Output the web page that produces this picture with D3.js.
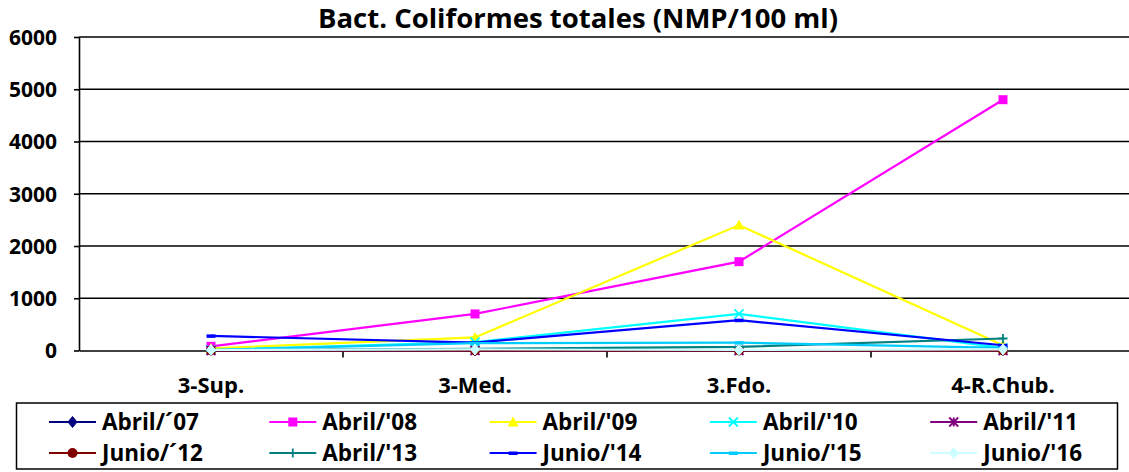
<!DOCTYPE html>
<html>
<head>
<meta charset="utf-8">
<script src="https://cdn.jsdelivr.net/npm/d3@7"></script>
<style>
  body { margin: 0; background: #fff; }
  svg { display: block; font-family: "Open Sans", Lato, sans-serif; font-weight: bold; }
</style>
</head>
<body>
<div id="chart"></div>
<script>
// chart data
const title = 'Bact. Coliformes totales (NMP/100 ml)';
const categories = ['3-Sup.', '3-Med.', '3.Fdo.', '4-R.Chub.'];
const yTicks = [0, 1000, 2000, 3000, 4000, 5000, 6000];

const seriesNames = ['Abril/´07', "Abril/'08", "Abril/'09", "Abril/'10", "Abril/'11",
  'Junio/´12', "Abril/'13", "Junio/'14", "Junio/'15", "Junio/'16"];
const seriesColors = ['#000080', '#ff00ff', '#ffff00', '#00ffff', '#800080',
  '#800000', '#008080', '#0000ff', '#00ccff', '#ccffff'];
const seriesMarkers = ['diamond', 'square', 'triangle', 'x', 'star',
  'circle', 'plus', 'dash', 'dash', 'diamond'];

const abril07 = [5, 5, 10, 10];
const abril08 = [80, 700, 1700, 4800];
const abril09 = [40, 250, 2400, 100];
const abril10 = [10, 160, 700, 50];
const abril11 = [0, 0, 0, 0];
const junio12 = [0, 0, 0, 0];
const abril13 = [10, 30, 70, 230];
const junio14 = [280, 150, 580, 100];
const junio15 = [10, 140, 150, 50];
const junio16 = [10, 20, 10, 20];
const seriesValues = [abril07, abril08, abril09, abril10, abril11,
  junio12, abril13, junio14, junio15, junio16];

const W = 1129, H = 472;
const margin = {top: 37, left: 79, bottom: 121.5};

const svg = d3.select('#chart').append('svg')
  .attr('width', W)
  .attr('height', H);

const x = d3.scaleBand().domain(categories).range([margin.left, 1135]);
const y = d3.scaleLinear().domain([0, 6000]).range([H - margin.bottom, margin.top]);

// title
svg.append('text')
  .attr('x', 578)
  .attr('y', 28)
  .attr('text-anchor', 'middle')
  .style('font-size', '27.5px')
  .text(title);

// gridlines
svg.append('g')
  .selectAll('line')
  .data(yTicks.filter(d => d > 0))
  .join('line')
  .attr('x1', margin.left).attr('x2', W)
  .attr('y1', d => y(d)).attr('y2', d => y(d))
  .attr('stroke', '#000').attr('stroke-width', 1.6);

// y axis
const yAxis = svg.append('g')
  .attr('transform', `translate(${margin.left},0)`)
  .call(d3.axisLeft(y).tickValues(yTicks).tickFormat(d3.format('d'))
    .tickSize(5).tickSizeOuter(0).tickPadding(17));
yAxis.select('.domain').attr('stroke', '#000').attr('stroke-width', 1.6);
yAxis.selectAll('.tick line').attr('stroke-width', 1.6);
yAxis.selectAll('.tick text')
  .style('font-size', '21px')
  .style('font-family', '"Open Sans", sans-serif')
  .style('font-weight', 'bold')
  .attr('dy', '0.35em')
  .attr('fill', '#000');

// x axis
const xAxis = svg.append('g')
  .attr('transform', `translate(0,${y(0)})`)
  .call(d3.axisBottom(x).tickSize(0).tickPadding(27));
xAxis.select('.domain').attr('stroke', '#000').attr('stroke-width', 1.6);
xAxis.selectAll('.tick text')
  .style('font-size', '22px')
  .style('font-family', '"Open Sans", sans-serif')
  .style('font-weight', 'bold')
  .attr('fill', '#000');
// category separators
xAxis.selectAll('.sep')
  .data(categories.slice(1))
  .join('line')
  .attr('class', 'sep')
  .attr('x1', d => x(d)).attr('x2', d => x(d))
  .attr('y1', 0).attr('y2', 7)
  .attr('stroke', '#000').attr('stroke-width', 1.6);

function drawMarker(g, type, color, cx, cy) {
  const s = 4.5;
  if (type === 'diamond') {
    g.append('path').attr('d', `M${cx},${cy - s - 1}L${cx + s},${cy}L${cx},${cy + s + 1}L${cx - s},${cy}Z`)
      .attr('fill', color).attr('stroke', color);
  } else if (type === 'square') {
    g.append('rect').attr('x', cx - s).attr('y', cy - s).attr('width', 2 * s).attr('height', 2 * s)
      .attr('fill', color);
  } else if (type === 'triangle') {
    g.append('path').attr('d', `M${cx},${cy - s - 1}L${cx + s + 1},${cy + s}L${cx - s - 1},${cy + s}Z`)
      .attr('fill', color);
  } else if (type === 'x') {
    g.append('path').attr('d', `M${cx - s},${cy - s}L${cx + s},${cy + s}M${cx - s},${cy + s}L${cx + s},${cy - s}`)
      .attr('stroke', color).attr('stroke-width', 1.8);
  } else if (type === 'star') {
    g.append('path').attr('d', `M${cx - s},${cy - s}L${cx + s},${cy + s}M${cx - s},${cy + s}L${cx + s},${cy - s}M${cx},${cy - s}L${cx},${cy + s}`)
      .attr('stroke', color).attr('stroke-width', 1.8);
  } else if (type === 'circle') {
    g.append('circle').attr('cx', cx).attr('cy', cy).attr('r', s + 0.5).attr('fill', color);
  } else if (type === 'plus') {
    g.append('path').attr('d', `M${cx - s},${cy}L${cx + s},${cy}M${cx},${cy - s}L${cx},${cy + s}`)
      .attr('stroke', color).attr('stroke-width', 1.8);
  } else if (type === 'dash') {
    g.append('rect').attr('x', cx - s).attr('y', cy - 1.5).attr('width', 2 * s).attr('height', 3.5)
      .attr('fill', color);
  }
}

// series lines and markers
const line = d3.line()
  .x((d, i) => x(categories[i]) + x.bandwidth() / 2)
  .y(d => y(d));

seriesValues.forEach((vals, k) => {
  const g = svg.append('g').attr('class', 'series');
  g.append('path')
    .datum(vals)
    .attr('d', line)
    .attr('fill', 'none')
    .attr('stroke', seriesColors[k])
    .attr('stroke-width', 2.2);
  vals.forEach((v, i) => {
    drawMarker(g, seriesMarkers[k], seriesColors[k], x(categories[i]) + x.bandwidth() / 2, y(v));
  });
});

// legend
const legend = svg.append('g');
legend.append('rect')
  .attr('x', 16.5).attr('y', 403)
  .attr('width', 1101).attr('height', 66)
  .attr('fill', '#fff').attr('stroke', '#000').attr('stroke-width', 1.5);

seriesNames.forEach((name, k) => {
  const col = k % 5, row = Math.floor(k / 5);
  const lx = 49 + col * 220.3, ly = 422 + row * 31;
  const g = legend.append('g');
  g.append('line')
    .attr('x1', lx).attr('x2', lx + 47)
    .attr('y1', ly).attr('y2', ly)
    .attr('stroke', seriesColors[k]).attr('stroke-width', 2.2);
  drawMarker(g, seriesMarkers[k], seriesColors[k], lx + 23.5, ly);
  g.append('text')
    .attr('x', lx + 53)
    .attr('y', ly)
    .attr('dy', '0.36em')
    .style('font-size', '22.5px')
    .text(name);
});
</script>
</body>
</html>
